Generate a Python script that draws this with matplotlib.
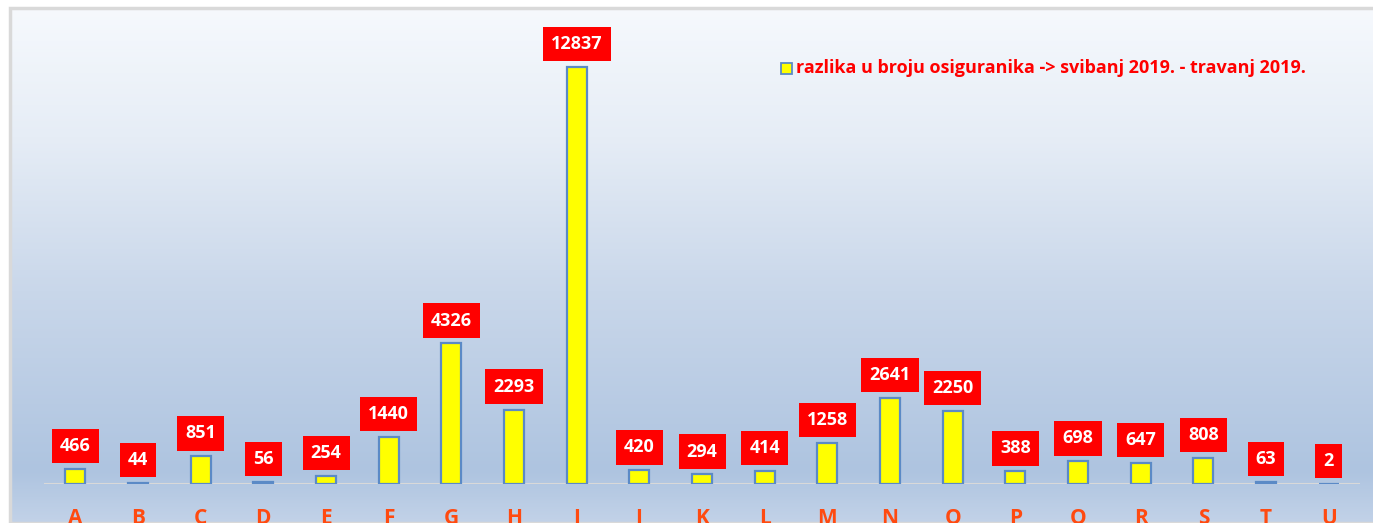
import numpy as np
import matplotlib
matplotlib.use("Agg")
import matplotlib.pyplot as plt
from matplotlib.colors import LinearSegmentedColormap
from matplotlib.patches import Rectangle

categories = ["A", "B", "C", "D", "E", "F", "G", "H", "I", "J", "K",
              "L", "M", "N", "O", "P", "Q", "R", "S", "T", "U"]
values = [466, 44, 851, 56, 254, 1440, 4326, 2293, 12837, 420, 294,
          414, 1258, 2641, 2250, 388, 698, 647, 808, 63, 2]
legend_label = "razlika u broju osiguranika -> svibanj 2019. - travanj 2019."

W, H = 1373, 523
fig = plt.figure(figsize=(W / 100, H / 100), dpi=100)
fig.patch.set_facecolor("white")

# background panel with gradient
bg = fig.add_axes([10 / W, 0, 1 - 10 / W, 1 - 8 / H])
bg.set_axis_off()
cmap = LinearSegmentedColormap.from_list(
    "bg", [(0.0, "#f6f9fd"), (0.25, "#e6edf6"), (0.55, "#c9d7ea"),
           (0.9, "#aec4e0"), (1.0, "#c2d2e8")])
grad = np.linspace(0, 1, 256).reshape(-1, 1)
bg.imshow(grad, aspect="auto", cmap=cmap, extent=[0, 1, 0, 1], origin="upper")
bg.set_xlim(0, 1)
bg.set_ylim(0, 1)
bg.add_patch(Rectangle((0, 0), 1.01, 1, fill=False, edgecolor="#d9d9d9",
                       linewidth=2.5, clip_on=False))

# main axes
left, right = 44, 1360
base_y = 484
top_y = 8
ax = fig.add_axes([left / W, (H - base_y) / H, (right - left) / W,
                   (base_y - top_y) / H])
ax.set_facecolor("none")
ymax = (base_y - top_y) / (base_y - 67) * 12837
x = np.arange(len(categories))
ax.bar(x, values, width=0.32, color="#ffff00", edgecolor="#5b8ac6",
       linewidth=1.6, zorder=3)
ax.set_xlim(-0.5, len(categories) - 0.5)
ax.set_ylim(0, ymax)
for s in ax.spines.values():
    s.set_visible(False)
ax.axhline(0, color="#d9d9d9", linewidth=1.5, zorder=2)
ax.set_yticks([])
ax.set_xticks(x)
ax.set_xticklabels(categories, fontfamily="Open Sans", fontweight="bold",
                   fontsize=15, color="#ff4a10")
ax.tick_params(axis="x", length=0, pad=17)

for xi, v in zip(x, values):
    ax.annotate(str(v), (xi, v), xytext=(0, 16.5), textcoords="offset points",
                ha="center", va="center", fontfamily="Open Sans",
                fontweight="bold", fontsize=13, color="white",
                bbox=dict(boxstyle="square,pad=0.45", facecolor="#ff0000",
                          edgecolor="none"), zorder=5)

# legend
fig.patches.append(Rectangle((781 / W, (H - 74) / H), 11 / W, 11 / H,
                             facecolor="#ffff00", edgecolor="#5b8ac6",
                             linewidth=1.3, transform=fig.transFigure))
fig.text(796 / W, (H - 68) / H, legend_label, fontfamily="Open Sans",
         fontweight="bold", fontsize=13, color="#ff0000", va="center",
         ha="left")

fig.savefig("out.png", dpi=100)
